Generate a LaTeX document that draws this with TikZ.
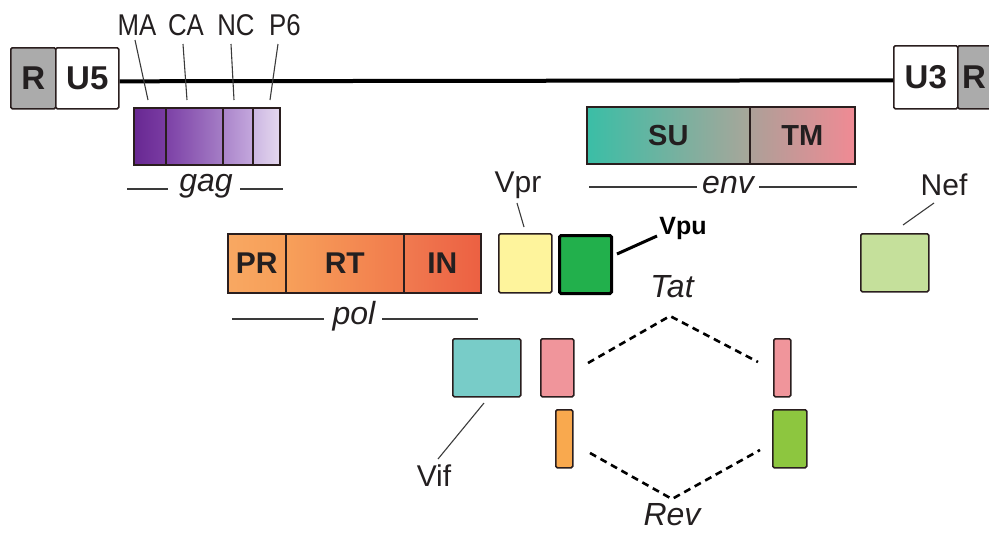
\documentclass[tikz,border=0pt]{standalone}
\usepackage{fontspec}
\setmainfont{Liberation Sans}
\newfontfamily\condfont[FakeStretch=0.86]{Liberation Sans}
\usetikzlibrary{calc}
\definecolor{boxline}{HTML}{2A1E1E}
\definecolor{txt}{HTML}{231F20}
\definecolor{ltrgray}{HTML}{ABABAB}
\definecolor{leadgray}{HTML}{3A3A3A}
\begin{document}
\begin{tikzpicture}[x=1pt,y=-1pt,
  box/.style={draw=boxline, line width=1.6pt, rounded corners=1.5pt, inner sep=0pt, anchor=north west},
  seg/.style={draw=boxline, line width=1.6pt, inner sep=0pt, anchor=north west},
  big/.style={font=\fontsize{30}{32}\selectfont\bfseries, text=txt},
  ltr/.style={font=\fontsize{33}{35}\selectfont\bfseries, text=txt},
  lab/.style={font=\fontsize{30}{32}\selectfont, text=txt},
  sublab/.style={font=\condfont\fontsize{30}{32}\selectfont, text=txt},
  ital/.style={font=\fontsize{32}{34}\selectfont\itshape, text=txt},
  lead/.style={draw=leadgray, line width=1.1pt},
  tatdash/.style={draw=black, line width=2.6pt, dash pattern=on 7pt off 5pt},
]
\useasboundingbox (0,0) rectangle (989,533);
\clip (0,0) rectangle (989,533);

% LTRs
\node[box, fill=ltrgray, minimum width=45pt, minimum height=61pt, ltr] (R1) at (10,47) {R};
\node[box, fill=white, minimum width=63pt, minimum height=61pt, ltr] (U5) at (55,47) {U5};
\node[box, fill=white, minimum width=64pt, minimum height=63pt, ltr] (U3) at (893,45) {U3};
\node[box, fill=ltrgray, minimum width=45pt, minimum height=63pt] (R2) at (957,45) {};
\node[ltr, inner sep=0pt] (R2l) at (974,77) {R};
\draw[line width=4pt, black] ($(U5.east)+(0,3)$) -- ($(U3.west)+(0,3)$);

% gag
\node[seg, left color={rgb,255:red,104;green,40;blue,146}, right color={rgb,255:red,122;green,60;blue,163}, minimum width=32pt, minimum height=57pt] (MA) at (133,107) {};
\node[seg, left color={rgb,255:red,124;green,64;blue,166}, right color={rgb,255:red,165;green,126;blue,198}, minimum width=57pt, minimum height=57pt] (CA) at (165,107) {};
\node[seg, left color={rgb,255:red,170;green,132;blue,202}, right color={rgb,255:red,196;green,168;blue,221}, minimum width=30pt, minimum height=57pt] (NC) at (222,107) {};
\node[seg, left color={rgb,255:red,204;green,182;blue,226}, right color={rgb,255:red,228;green,216;blue,238}, minimum width=27pt, minimum height=57pt] (P6) at (252,107) {};
\node[sublab] (MAl) at (137,25) {MA};
\node[sublab] (CAl) at (186,25) {CA};
\node[sublab] (NCl) at (236,25) {NC};
\node[sublab] (P6l) at (285,25) {P6};
\coordinate (ma1) at (135,40); \coordinate (ma2) at (148,100);
\coordinate (ca1) at (183,44); \coordinate (ca2) at (187,100);
\coordinate (nc1) at (231,44); \coordinate (nc2) at (234,100);
\coordinate (p61) at (278,44); \coordinate (p62) at (270,100);
\draw[lead] (ma1) -- (ma2);
\draw[lead] (ca1) -- (ca2);
\draw[lead] (nc1) -- (nc2);
\draw[lead] (p61) -- (p62);
\node[ital] (gag) at (206,186) {gag};
\coordinate (gagL1) at (127,189); \coordinate (gagL2) at (168,189);
\coordinate (gagR1) at (240,189); \coordinate (gagR2) at (283,189);
\draw[lead] (gagL1) -- (gagL2);
\draw[lead] (gagR1) -- (gagR2);

% env
\node[seg, left color={rgb,255:red,58;green,190;blue,166}, right color={rgb,255:red,168;green,166;blue,154}, minimum width=163pt, minimum height=57pt, big, font=\fontsize{29}{31}\selectfont\bfseries] (SU) at (586,106) {SU};
\node[seg, left color={rgb,255:red,172;green,160;blue,152}, right color={rgb,255:red,240;green,138;blue,148}, minimum width=105pt, minimum height=57pt, big, font=\fontsize{29}{31}\selectfont\bfseries] (TM) at (749,106) {TM};
\node[ital] (env) at (728,185) {env};
\coordinate (envL1) at (589,187); \coordinate (envL2) at (697,187);
\coordinate (envR1) at (759,187); \coordinate (envR2) at (857,187);
\draw[lead] (envL1) -- (envL2);
\draw[lead] (envR1) -- (envR2);

% pol
\node[seg, left color={rgb,255:red,248;green,168;blue,98}, right color={rgb,255:red,247;green,158;blue,88}, minimum width=58pt, minimum height=59pt, big] (PR) at (227,233) {PR};
\node[seg, left color={rgb,255:red,247;green,160;blue,90}, right color={rgb,255:red,241;green,122;blue,76}, minimum width=118pt, minimum height=59pt, big] (RT) at (285,233) {RT};
\node[seg, left color={rgb,255:red,240;green,122;blue,80}, right color={rgb,255:red,236;green,96;blue,66}, minimum width=77pt, minimum height=59pt, big] (IN) at (403,233) {IN};
\node[ital] (pol) at (354,316) {pol};
\coordinate (polL1) at (232,319); \coordinate (polL2) at (324,319);
\coordinate (polR1) at (382,319); \coordinate (polR2) at (478,319);
\draw[lead] (polL1) -- (polL2);
\draw[lead] (polR1) -- (polR2);

% accessory genes
\node[box, fill={rgb,255:red,254;green,244;blue,156}, minimum width=53pt, minimum height=59pt] (Vpr) at (498,233) {};
\node[lab] (Vprl) at (518,185) {Vpr};
\coordinate (vpr1) at (517,203); \coordinate (vpr2) at (524,227);
\draw[lead] (vpr1) -- (vpr2);

\node[box, draw=black, line width=3pt, fill={rgb,255:red,34;green,176;blue,76}, minimum width=52pt, minimum height=58pt] (Vpu) at (558,234) {};
\node[font=\fontsize{25}{27}\selectfont\bfseries, text=black] (Vpul) at (683,228) {Vpu};
\coordinate (vpu1) at (617,254); \coordinate (vpu2) at (657,236);
\draw[black, line width=3pt] (vpu1) -- (vpu2);

\node[box, fill={rgb,255:red,197;green,224;blue,155}, minimum width=68pt, minimum height=58pt] (Nef) at (860,233) {};
\node[lab] (Nefl) at (944,185) {Nef};
\coordinate (nef1) at (903,225); \coordinate (nef2) at (934,203);
\draw[lead] (nef1) -- (nef2);

\node[box, fill={rgb,255:red,120;green,204;blue,200}, minimum width=68pt, minimum height=58pt] (Vif) at (452,338) {};
\node[lab] (Vifl) at (434,476) {Vif};
\coordinate (vif1) at (438,459); \coordinate (vif2) at (484,403);
\draw[lead] (vif1) -- (vif2);

% tat / rev exons
\node[box, fill={rgb,255:red,240;green,149;blue,155}, minimum width=33pt, minimum height=58pt] (Tat1) at (540,338) {};
\node[box, fill={rgb,255:red,249;green,169;blue,78}, minimum width=17pt, minimum height=58pt] (Rev1) at (555,409) {};
\node[box, fill={rgb,255:red,240;green,149;blue,155}, minimum width=17pt, minimum height=58pt] (Tat2) at (773,338) {};
\node[box, fill={rgb,255:red,141;green,198;blue,63}, minimum width=34pt, minimum height=58pt] (Rev2) at (772,409) {};

\node[ital] (Tatl) at (672,287) {Tat};
\node[ital] (Revl) at (672,515) {Rev};
\coordinate (t1) at (588,363); \coordinate (tp) at (670,316); \coordinate (t2) at (758,362);
\coordinate (r1) at (590,453); \coordinate (rp) at (672,499); \coordinate (r2) at (760,450);
\draw[tatdash] (t1) -- (tp) -- (t2);
\draw[tatdash] (r1) -- (rp) -- (r2);
\end{tikzpicture}
\end{document}
